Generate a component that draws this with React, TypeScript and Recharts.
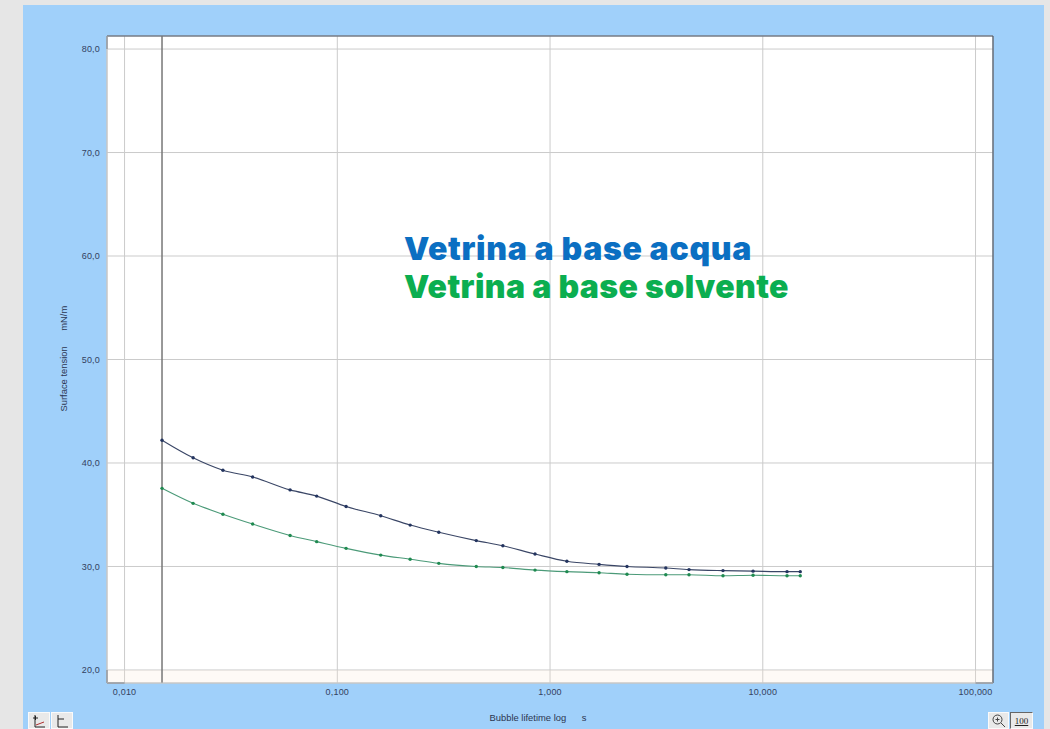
import React from 'react';
import {
  ComposedChart,
  Line,
  XAxis,
  YAxis,
  CartesianGrid,
  ReferenceLine,
  ReferenceArea
} from 'recharts';

const lifetimes = [0.015, 0.021, 0.029, 0.04, 0.06, 0.08, 0.11, 0.16, 0.22, 0.3, 0.45, 0.6, 0.85, 1.2, 1.7, 2.3, 3.5, 4.5, 6.5, 9, 13, 15];
const waterBased = [42.2, 40.5, 39.3, 38.65, 37.4, 36.8, 35.8, 34.9, 34.0, 33.3, 32.5, 32.0, 31.2, 30.5, 30.2, 30.0, 29.85, 29.7, 29.6, 29.55, 29.5, 29.5];
const solventBased = [37.55, 36.1, 35.05, 34.1, 33.0, 32.4, 31.75, 31.1, 30.7, 30.3, 30.0, 29.9, 29.65, 29.5, 29.4, 29.25, 29.2, 29.2, 29.1, 29.15, 29.1, 29.1];

const xTicks = [0.01, 0.1, 1, 10, 100];
const yTicks = [20, 30, 40, 50, 60, 70, 80];
const xDomain = [0.00827, 120.8];
const yDomain = [18.74, 81.26];
const startLifetime = 0.015;

const data = lifetimes.map((t, i) => ({
  t,
  water: waterBased[i],
  solvent: solventBased[i]
}));

const tickStyle = { fontFamily: 'Liberation Sans', fontSize: 9, fill: '#33415f', letterSpacing: 0.2 };
const labelStyle = { fontFamily: 'Liberation Sans', fontSize: 9.4, fill: '#2c3550' };
const buttonStyle: React.CSSProperties = {
  position: 'absolute',
  top: 712,
  height: 17,
  background: '#e9e9e9',
  border: '1px solid #fafafa',
  boxSizing: 'border-box',
  display: 'flex',
  alignItems: 'center',
  justifyContent: 'center'
};

export default function App() {
  return (
    <div style={{ position: 'absolute', left: 0, top: 0, width: 1050, height: 729, background: '#e6e6e6', overflow: 'hidden' }}>
      <div style={{ position: 'absolute', left: 23, top: 5, width: 1021, height: 724, background: '#a0d0fa' }} />
      <div style={{ position: 'absolute', left: 0, top: 0 }}>
        <ComposedChart
          width={1050}
          height={729}
          data={data}
          margin={{ top: 36, right: 57, bottom: 26, left: 47 }}
        >
          <CartesianGrid stroke="#cbcbcb" strokeWidth={1} fill="#ffffff" fillOpacity={1} />
          <ReferenceArea x1={xDomain[0]} x2={xDomain[1]} y1={yDomain[0]} y2={20} fill="#f8e8d0" fillOpacity={0.2} stroke="none" />
          <XAxis
            dataKey="t"
            type="number"
            scale="log"
            domain={xDomain}
            ticks={xTicks}
            allowDataOverflow
            interval={0}
            height={20}
            tickLine={false}
            tickMargin={0}
            stroke="#c4c4c4"
            tick={tickStyle}
            tickFormatter={(v: number) => v.toFixed(3).replace('.', ',')}
            label={{ value: 'Bubble lifetime log\u00a0\u00a0\u00a0\u00a0\u00a0\u00a0s', position: 'bottom', offset: 0, dx: -12, dy: 11, style: labelStyle }}
          />
          <YAxis
            type="number"
            domain={yDomain}
            ticks={yTicks}
            allowDataOverflow
            interval={0}
            width={60}
            tickLine={false}
            tickMargin={1}
            stroke="#c4c4c4"
            tick={tickStyle}
            tickFormatter={(v: number) => v.toFixed(1).replace('.', ',')}
            label={{ value: 'Surface tension\u00a0\u00a0\u00a0\u00a0\u00a0\u00a0mN/m', angle: -90, position: 'insideLeft', offset: 0, dx: 17, dy: 52, style: labelStyle }}
          />
          <ReferenceLine y={yDomain[1]} stroke="#4c5563" strokeWidth={1.2} />
          <ReferenceLine x={xDomain[1]} stroke="#4c5563" strokeWidth={1.2} />
          <ReferenceLine segment={[{ x: xDomain[0], y: 80 }, { x: xDomain[0], y: yDomain[1] }]} stroke="#4c5563" strokeWidth={1.2} />
          <ReferenceLine segment={[{ x: xDomain[0], y: yDomain[0] }, { x: xDomain[0], y: 20 }]} stroke="#4c5563" strokeWidth={1.2} />
          <ReferenceLine segment={[{ x: xDomain[0], y: yDomain[0] }, { x: 0.01, y: yDomain[0] }]} stroke="#4c5563" strokeWidth={1.2} />
          <ReferenceLine segment={[{ x: 100, y: yDomain[0] }, { x: xDomain[1], y: yDomain[0] }]} stroke="#4c5563" strokeWidth={1.2} />
          <ReferenceLine x={startLifetime} stroke="#777777" strokeWidth={1.5} />
          <Line
            dataKey="water"
            type="monotone"
            stroke="#3a4666"
            strokeWidth={1.1}
            dot={{ r: 1.7, fill: '#23345f', stroke: 'none' }}
            isAnimationActive={false}
          />
          <Line
            dataKey="solvent"
            type="monotone"
            stroke="#4b9a78"
            strokeWidth={1.1}
            dot={{ r: 1.7, fill: '#1f8a50', stroke: 'none' }}
            isAnimationActive={false}
          />
        </ComposedChart>
      </div>

      <div style={{ position: 'absolute', left: 404, top: 230, fontFamily: 'Inter', fontWeight: 900, fontSize: 32, letterSpacing: 0.7, lineHeight: '38px', color: '#0b6fc2', whiteSpace: 'nowrap' }}>
        Vetrina a base acqua
      </div>
      <div style={{ position: 'absolute', left: 404, top: 268, fontFamily: 'Inter', fontWeight: 900, fontSize: 32, letterSpacing: 0.4, lineHeight: '38px', color: '#0bae50', whiteSpace: 'nowrap' }}>
        Vetrina a base solvente
      </div>

      <div style={{ ...buttonStyle, left: 28, width: 22 }}>
        <svg width={14} height={14}>
          <path d="M3 1V13H13M1 4H6M3.5 2V6" stroke="#222" fill="none" />
          <path d="M4 11L12 8" stroke="#b03030" fill="none" />
        </svg>
      </div>
      <div style={{ ...buttonStyle, left: 51, width: 22 }}>
        <svg width={14} height={14}>
          <path d="M3 1V13H13M3 5H9" stroke="#222" fill="none" />
        </svg>
      </div>
      <div style={{ ...buttonStyle, left: 988, width: 21 }}>
        <svg width={15} height={15}>
          <circle cx={6.5} cy={6.5} r={4.5} stroke="#444" fill="none" />
          <path d="M10 10L14 14M4.5 6.5H8.5M6.5 4.5V8.5" stroke="#444" fill="none" />
        </svg>
      </div>
      <div style={{ ...buttonStyle, left: 1010, width: 23, borderLeft: '1px solid #666', borderTop: '1px solid #666', fontFamily: 'Liberation Serif', fontSize: 9, textDecoration: 'underline', color: '#222' }}>
        100
      </div>
    </div>
  );
}
